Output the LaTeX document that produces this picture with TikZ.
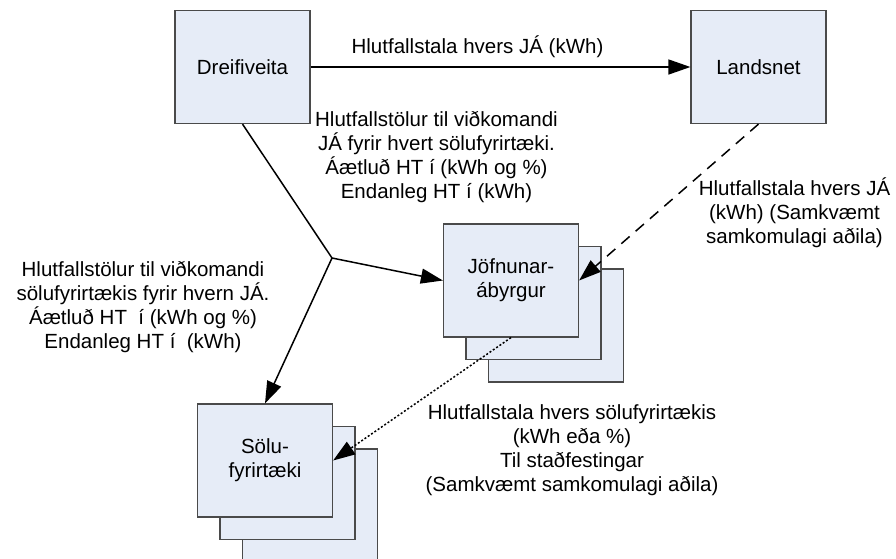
\documentclass[tikz,border=0pt]{standalone}
\usepackage{fontspec}
\setmainfont{Liberation Sans}
\usetikzlibrary{arrows.meta,calc}
\definecolor{boxfill}{HTML}{E6ECF7}
\definecolor{boxline}{HTML}{4A4A4A}

\begin{document}
\begin{tikzpicture}[x=1pt,y=-1pt,>={Triangle[length=22pt,width=15pt]},line width=1.5pt,
  entity/.style={draw=boxline,line width=1.2pt,fill=boxfill,minimum width=135pt,minimum height=113pt,
    inner sep=0pt,align=center,font=\fontsize{20.5}{24}\selectfont},
  note/.style={align=center,inner sep=0pt,font=\fontsize{20.5}{24}\selectfont}]
\useasboundingbox (0,0) rectangle (896,558);

% Stacked copies behind the front boxes
\foreach \s in {2,1} {
  \node[entity] (jofn\s) at ($(511,280.5)+(\s*22.5,\s*22.5)$) {};
  \node[entity] (solu\s) at ($(265,460.5)+(\s*22.5,\s*22.5)$) {};
}

% === Parties ===
\node[entity] (dreif) at (242.5,67) {Dreifiveita};
\node[entity] (lands) at (758.5,67) {Landsnet};
\node[entity] (jofn) at (511,280.5) {Jöfnunar-\\ábyrgur};
\node[entity] (solu) at (265,460.5) {Sölu-\\fyrirtæki};
\coordinate (split) at (332,258);

% === Data flows ===
\draw[->] (dreif) -- (lands);
\draw (dreif.south) -- (split);
\draw[->] (split) -- (jofn.west);
\draw[->] (split) -- (solu.north);
\draw[->,dash pattern=on 11pt off 8pt] (lands.south) -- (jofn.east);
\draw[->,dash pattern=on 2pt off 2pt] (jofn.south) -- (solu.east);

% Labels
\node[note,anchor=base] (lblTop) at (477.5,53) {Hlutfallstala hvers JÁ (kWh)};
\node[note] (lblMid) at (436.5,157.5) {Hlutfallstölur til viðkomandi\\JÁ fyrir hvert sölufyrirtæki.\\Áætluð HT í (kWh og \%)\\Endanleg HT í (kWh)};
\node[note] (lblLeft) at (143,307) {Hlutfallstölur til viðkomandi\\sölufyrirtækis fyrir hvern JÁ.\\Áætluð HT\ \ í (kWh og \%)\\Endanleg HT í\ \ (kWh)};
\node[note] (lblRight) at (794.5,212.5) {Hlutfallstala hvers JÁ\\(kWh) (Samkvæmt\\samkomulagi aðila)};
\node[note] (lblBot) at (572,450.5) {Hlutfallstala hvers sölufyrirtækis\\(kWh eða \%)\\Til staðfestingar\\(Samkvæmt samkomulagi aðila)};
\end{tikzpicture}
\end{document}
